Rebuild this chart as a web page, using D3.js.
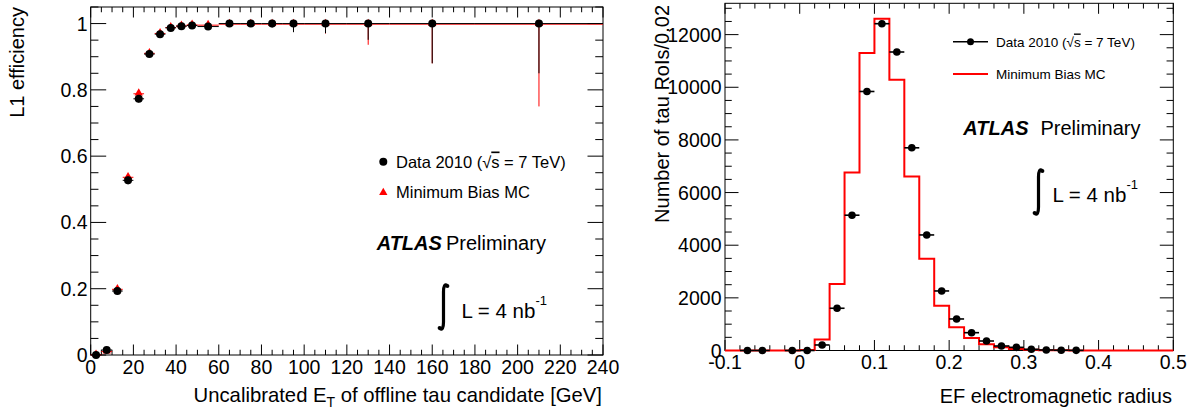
<!DOCTYPE html>
<html>
<head>
<meta charset="utf-8">
<script src="https://cdn.jsdelivr.net/npm/d3@7"></script>
<style>
  body { margin: 0; background: #fff; }
  svg { display: block; font-family: "Liberation Sans", Arial, Helvetica, sans-serif; }
</style>
</head>
<body>
<div id="chart"></div>
<script>
// left panel: L1 efficiency vs offline E_T (bins in GeV)
const effBinLo = [0, 5, 10, 15, 20, 25, 30, 35, 40, 45, 50, 60, 70, 80, 90, 100, 120, 140, 180];
const effBinHi = [5, 10, 15, 20, 25, 30, 35, 40, 45, 50, 60, 70, 80, 90, 100, 120, 140, 180, 240];
const effData = [0, 0.015, 0.193, 0.527, 0.773, 0.908, 0.968, 0.987, 0.992, 0.994, 0.991, 1, 1, 1, 1, 1, 1, 1, 1];
const effDataErr = [0.002, 0.005, 0.01, 0.012, 0.011, 0.008, 0.006, 0.004, 0.004, 0.004, 0.005, 0.003, 0.005, 0.012, 0.026, 0.029, 0.049, 0.12, 0.15];
const effMC = [0.002, 0.012, 0.2, 0.538, 0.79, 0.912, 0.972, 0.99, 0.995, 0.998, 0.997, 1, 1, 1, 1, 1, 1, 1, 1];
const effMCErr = [0.002, 0.004, 0.006, 0.008, 0.007, 0.005, 0.004, 0.003, 0.003, 0.003, 0.003, 0.002, 0.004, 0.01, 0.02, 0.03, 0.064, 0.12, 0.25];
const leftXTicks = [0, 20, 40, 60, 80, 100, 120, 140, 160, 180, 200, 220, 240];
const leftYTicks = [0, 0.2, 0.4, 0.6, 0.8, 1];

// right panel: EF electromagnetic radius
const radCenters = [-0.07, -0.05, -0.01, 0.01, 0.03, 0.05, 0.07, 0.09, 0.11, 0.13, 0.15, 0.17, 0.19, 0.21, 0.23, 0.25, 0.27, 0.29, 0.31, 0.33, 0.35, 0.37];
const radData = [0, 0, 0, 0, 210, 1605, 5140, 9840, 12415, 11340, 7700, 4390, 2262, 1198, 677, 361, 171, 120, 45, 20, 10, 5];
const mcEdges = [-0.1, -0.08, -0.06, -0.04, -0.02, 0, 0.02, 0.04, 0.06, 0.08, 0.1, 0.12, 0.14, 0.16, 0.18, 0.2, 0.22, 0.24, 0.26, 0.28, 0.3, 0.32, 0.34, 0.36, 0.38, 0.4, 0.42, 0.44, 0.46, 0.48, 0.5];
const mcCounts = [0, 0, 0, 0, 0, 20, 420, 2528, 6760, 11300, 12605, 10285, 6608, 3490, 1703, 882, 475, 236, 122, 60, 25, 12, 6, 3, 0, 0, 0, 0, 0, 0];
const rightXTicks = [-0.1, 0, 0.1, 0.2, 0.3, 0.4, 0.5];
const rightYTicks = [0, 2000, 4000, 6000, 8000, 10000, 12000];

const W = 1197, H = 419;
const svg = d3.select("#chart").append("svg").attr("width", W).attr("height", H);

const xL = d3.scaleLinear().domain([0, 240]).range([90.7, 603]);
const yL = d3.scaleLinear().domain([0, 1.05]).range([355, 7]);
const xR = d3.scaleLinear().domain([-0.1, 0.5]).range([725, 1173.3]);
const yR = d3.scaleLinear().domain([0, 13190]).range([350.5, 3.3]);

// ROOT style frame with ticks on all four sides
function frame(x, y, majX, minStepX, majY, minStepY, tlx, tly) {
  const [xa, xb] = x.range(), [ya, yb] = y.range();
  const g = svg.append("g").attr("stroke", "#000").attr("stroke-width", 1).attr("fill", "none");
  const [dx0, dx1] = x.domain(), [dy0, dy1] = y.domain();
  const minX = d3.range(dx0, dx1 + 1e-9, minStepX);
  const minY = d3.range(dy0, dy1 + 1e-9, minStepY);
  minX.forEach(v => {
    const big = majX.some(m => Math.abs(m - v) < 1e-6);
    const len = big ? tlx : tlx / 2;
    g.append("line").attr("x1", x(v)).attr("x2", x(v)).attr("y1", ya).attr("y2", ya - len);
    g.append("line").attr("x1", x(v)).attr("x2", x(v)).attr("y1", yb).attr("y2", yb + len);
  });
  minY.forEach(v => {
    const big = majY.some(m => Math.abs(m - v) < 1e-6);
    const len = big ? tly : tly / 2;
    g.append("line").attr("y1", y(v)).attr("y2", y(v)).attr("x1", xa).attr("x2", xa + len);
    g.append("line").attr("y1", y(v)).attr("y2", y(v)).attr("x1", xb).attr("x2", xb - len);
  });
  g.append("rect").attr("x", xa).attr("y", yb).attr("width", xb - xa).attr("height", ya - yb);
}

function tickLabels(x, y, xt, yt, xBase, yEnd) {
  const g = svg.append("g").style("font-size", "19.5px").attr("fill", "#000");
  g.selectAll(".xl").data(xt).enter().append("text")
    .attr("x", d => x(d)).attr("y", xBase).attr("text-anchor", "middle").text(d => String(d));
  g.selectAll(".yl").data(yt).enter().append("text")
    .attr("x", yEnd).attr("y", d => y(d) + 7).attr("text-anchor", "end").text(d => String(d));
}

// ---- left panel ----
frame(xL, yL, leftXTicks, 5, leftYTicks, 0.05, 10.5, 15.5);
tickLabels(xL, yL, leftXTicks, leftYTicks, 374, 87.5);

const effRows = effBinLo.map((lo, i) => ({
  lo, hi: effBinHi[i], mid: (lo + effBinHi[i]) / 2,
  d: effData[i], de: effDataErr[i], m: effMC[i], me: effMCErr[i]
}));

const gMC = svg.append("g").attr("stroke", "#ff0000").attr("stroke-width", 1);
effRows.forEach(r => {
  gMC.append("line").attr("x1", xL(r.lo)).attr("x2", xL(r.hi)).attr("y1", yL(r.m) + 0.6).attr("y2", yL(r.m) + 0.6);
  gMC.append("line").attr("x1", xL(r.mid)).attr("x2", xL(r.mid))
    .attr("y1", yL(Math.min(1, r.m + r.me))).attr("y2", yL(r.m - r.me));
});
const tri = d3.symbol().type(d3.symbolTriangle).size(30);
svg.append("g").selectAll("path").data(effRows).enter().append("path")
  .attr("d", tri).attr("fill", "#ff0000")
  .attr("transform", d => `translate(${xL(d.mid)},${yL(d.m)})`);

const gD = svg.append("g").attr("stroke", "#000").attr("stroke-width", 1);
effRows.forEach(r => {
  gD.append("line").attr("x1", xL(r.lo)).attr("x2", xL(r.hi)).attr("y1", yL(r.d)).attr("y2", yL(r.d));
  gD.append("line").attr("x1", xL(r.mid)).attr("x2", xL(r.mid))
    .attr("y1", yL(Math.min(1, r.d + r.de))).attr("y2", yL(r.d - r.de));
});
svg.append("g").selectAll("circle").data(effRows).enter().append("circle")
  .attr("cx", d => xL(d.mid)).attr("cy", d => yL(d.d)).attr("r", 4).attr("fill", "#000");

// sqrt(s) label with overline on s
function dataLabel(g, x, y) {
  const t = g.append("text").attr("x", x).attr("y", y);
  t.append("tspan").text("Data 2010 (\u221A");
  t.append("tspan").style("text-decoration", "overline").text("s");
  t.append("tspan").text(" = 7 TeV)");
}

// legend + labels left
svg.append("circle").attr("cx", 383.3).attr("cy", 161.7).attr("r", 4).attr("fill", "#000");
svg.append("path").attr("d", tri).attr("fill", "#ff0000").attr("transform", "translate(383.3,192.5)");
const legL = svg.append("g").style("font-size", "16.5px");
dataLabel(legL, 396, 167.5);
legL.append("text").attr("x", 396).attr("y", 198).text("Minimum Bias MC");

function atlas(x, y, gap) {
  const t = svg.append("text").attr("x", x).attr("y", y).style("font-size", "20px");
  t.append("tspan").style("font-weight", "bold").style("font-style", "italic").text("ATLAS");
  t.append("tspan").attr("dx", gap).text("Preliminary");
}
atlas(376.7, 249.5, 4);

function lumi(cx, top, bottom, tx, base) {
  const p = `M${cx + 3.5},${top + 1.5} C${cx + 1.5},${top - 0.5} ${cx},${top + 2} ${cx},${top + 8}` +
    ` L${cx},${bottom - 8} C${cx},${bottom - 2} ${cx - 1.5},${bottom + 0.5} ${cx - 3.5},${bottom - 1.5}`;
  svg.append("path").attr("d", p).attr("fill", "none").attr("stroke", "#000").attr("stroke-width", 3.2);
  svg.append("circle").attr("cx", cx + 3.8).attr("cy", top + 2).attr("r", 2.1);
  svg.append("circle").attr("cx", cx - 3.8).attr("cy", bottom - 2).attr("r", 2.1);
  const t = svg.append("text").attr("x", tx).attr("y", base).style("font-size", "20.5px");
  t.append("tspan").text("L = 4 nb");
  t.append("tspan").attr("dy", -13).style("font-size", "13px").text("-1");
}
lumi(443.5, 284, 330, 461.5, 317.5);

svg.append("text").attr("transform", "translate(23.5,7) rotate(-90)")
  .attr("text-anchor", "end").style("font-size", "20px").text("L1 efficiency");
const xtL = svg.append("text").attr("x", 602).attr("y", 402).attr("text-anchor", "end").style("font-size", "20.3px");
xtL.append("tspan").text("Uncalibrated E");
xtL.append("tspan").attr("dy", 5).style("font-size", "14px").text("T");
xtL.append("tspan").attr("dy", -5).text(" of offline tau candidate [GeV]");

// ---- right panel ----
frame(xR, yR, rightXTicks, 0.02, rightYTicks, 500, 10.5, 13.5);
tickLabels(xR, yR, rightXTicks, rightYTicks, 368.5, 721.5);

const step = [];
mcCounts.forEach((c, i) => { step.push([mcEdges[i], c]); step.push([mcEdges[i + 1], c]); });
svg.append("path").datum(step)
  .attr("d", d3.line().x(d => xR(d[0])).y(d => yR(d[1])))
  .attr("fill", "none").attr("stroke", "#ff0000").attr("stroke-width", 2);

const radRows = radCenters.map((c, i) => ({ c, n: radData[i] }));
svg.append("g").attr("stroke", "#000").attr("stroke-width", 1.6)
  .selectAll("line").data(radRows).enter().append("line")
  .attr("x1", d => xR(d.c - 0.01)).attr("x2", d => xR(d.c + 0.01))
  .attr("y1", d => yR(d.n)).attr("y2", d => yR(d.n));
svg.append("g").selectAll("circle").data(radRows).enter().append("circle")
  .attr("cx", d => xR(d.c)).attr("cy", d => yR(d.n)).attr("r", 3.8).attr("fill", "#000");

// legend right
svg.append("line").attr("x1", 953).attr("x2", 988).attr("y1", 41.7).attr("y2", 41.7).attr("stroke", "#000").attr("stroke-width", 1.6);
svg.append("circle").attr("cx", 970.5).attr("cy", 41.7).attr("r", 3.5).attr("fill", "#000");
svg.append("line").attr("x1", 953).attr("x2", 988).attr("y1", 74).attr("y2", 74).attr("stroke", "#ff0000").attr("stroke-width", 2);
const legR = svg.append("g").style("font-size", "13.5px");
dataLabel(legR, 996, 46.5);
legR.append("text").attr("x", 996).attr("y", 79).text("Minimum Bias MC");

atlas(963.3, 135, 12);
lumi(1038.5, 169, 215, 1052.5, 201.5);

svg.append("text").attr("transform", "translate(669,5) rotate(-90)")
  .attr("text-anchor", "end").style("font-size", "20px").text("Number of tau RoIs/0.02");
svg.append("text").attr("x", 1172).attr("y", 403).attr("text-anchor", "end")
  .style("font-size", "20px").text("EF electromagnetic radius");
</script>
</body>
</html>
